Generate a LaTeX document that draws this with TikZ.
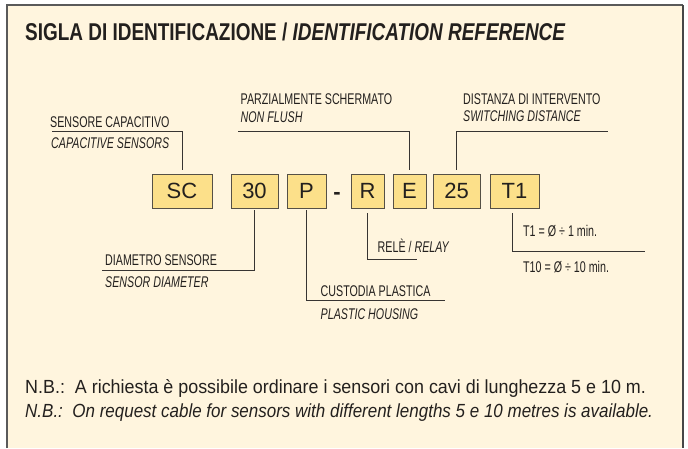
\documentclass[tikz,border=0pt]{standalone}
\usepackage{fontspec}
\setmainfont{Liberation Sans}
\newfontfamily\condfont{Liberation Sans}[FakeStretch=0.69]
\newfontfamily\titlefont{Liberation Sans}[FakeStretch=0.78]
\newfontfamily\notefont{Liberation Sans}[FakeStretch=0.894]
\newfontfamily\noteregfont{Liberation Sans}[FakeStretch=0.942]
\definecolor{bgcream}{RGB}{255,245,222}
\definecolor{boxfill}{RGB}{252,224,138}
\definecolor{boxborder}{RGB}{85,80,70}
\definecolor{framegray}{RGB}{90,90,90}
\definecolor{framedark}{RGB}{70,70,70}
\definecolor{textdark}{RGB}{35,32,30}
\definecolor{linegray}{RGB}{55,52,50}
\tikzset{
  codebox/.style={draw=boxborder, fill=boxfill, line width=0.9pt, minimum height=34pt, inner sep=0pt, text=textdark, font=\fontsize{22}{24}\selectfont},
  lbl/.style={anchor=base west, inner sep=0pt, text=textdark, font=\condfont\fontsize{15.5}{17}\selectfont},
  lbli/.style={lbl, font=\condfont\itshape\fontsize{15.5}{17}\selectfont},
  conn/.style={draw=linegray, line width=0.9pt},
  note/.style={anchor=base west, inner sep=0pt, text=textdark, font=\notefont\fontsize{19}{22}\selectfont}
}
\begin{document}
\begin{tikzpicture}[x=1pt,y=-1pt]
\useasboundingbox (0,0) rectangle (688,448);
\fill[white] (0,0) rectangle (688,448);
\fill[bgcream] (7,5) rectangle (683,448);
\draw[framegray, line width=1.5pt] (7,448) -- (7,5) -- (683,5);
\draw[framedark, line width=2.5pt] (683,5) -- (683,448);

\node[anchor=base west, inner sep=0pt, text=textdark, font=\titlefont\bfseries\fontsize{24.3}{28}\selectfont] (title) at (25,40) {SIGLA DI IDENTIFICAZIONE / \itshape IDENTIFICATION REFERENCE};

% code boxes
\node[codebox, minimum width=60pt] (sc) at (182,191) {SC};
\node[codebox, minimum width=47pt] (d30) at (254.5,191) {30};
\node[codebox, minimum width=39pt] (p) at (306.5,191) {P};
\node[anchor=base, inner sep=0pt, text=textdark, font=\bfseries\fontsize{22}{24}\selectfont] (dash) at (337,199) {-};
\node[codebox, minimum width=33pt] (r) at (367.5,191) {R};
\node[codebox, minimum width=33pt] (e) at (409.5,191) {E};
\node[codebox, minimum width=47pt] (d25) at (456.5,191) {25};
\node[codebox, minimum width=49pt] (t1) at (514.5,191) {T1};

% labels
\node[lbl] (scl1) at (50,127.5) {SENSORE CAPACITIVO};
\node[lbli] (scl2) at (51,148) {CAPACITIVE SENSORS};
\node[lbl] (el1) at (240.5,104) {PARZIALMENTE SCHERMATO};
\node[lbli] (el2) at (240.5,122) {NON FLUSH};
\node[lbl] (dl1) at (463,104) {DISTANZA DI INTERVENTO};
\node[lbli] (dl2) at (463,121.5) {SWITCHING DISTANCE};
\node[lbl] (ml1) at (105,265.5) {DIAMETRO SENSORE};
\node[lbli] (ml2) at (105,287) {SENSOR DIAMETER};
\node[lbl] (pl1) at (320.5,296.5) {CUSTODIA PLASTICA};
\node[lbli] (pl2) at (320.5,319) {PLASTIC HOUSING};
\node[lbl] (rl) at (377.5,252.5) {RELÈ / \itshape RELAY};
\node[lbl] (tl1) at (523,236.5) {T1 = Ø ÷ 1 min.};
\node[lbl] (tl2) at (523,272.5) {T10 = Ø ÷ 10 min.};

% connectors
\coordinate (scEnd) at (52,131);
\coordinate (eEnd) at (238,131);
\coordinate (dEnd) at (608,131);
\coordinate (mEnd) at (102,270);
\coordinate (pEnd) at (445,300);
\coordinate (rEnd) at (417,259);
\coordinate (tEnd) at (645,251);
\draw[conn] ([yshift=4pt]sc.north) |- (scEnd);
\draw[conn] ([yshift=4pt]e.north) |- (eEnd);
\draw[conn] ([yshift=4pt]d25.north) |- (dEnd);
\draw[conn] ([yshift=-2pt]d30.south) |- (mEnd);
\draw[conn] ([yshift=-2pt]p.south) |- (pEnd);
\draw[conn] ([yshift=-5pt]r.south) |- (rEnd);
\draw[conn] ([xshift=-2.5pt,yshift=-5pt]t1.south) |- (tEnd);

% notes
\node[note, font=\noteregfont\fontsize{19}{22}\selectfont] (nb1) at (25,393) {N.B.:\ \ A richiesta è possibile ordinare i sensori con cavi di lunghezza 5 e 10 m.};
\node[note, font=\notefont\itshape\fontsize{19}{22}\selectfont] (nb2) at (25,417) {N.B.:\ \ On request cable for sensors with different lengths 5 e 10 metres is available.};
\end{tikzpicture}
\end{document}
